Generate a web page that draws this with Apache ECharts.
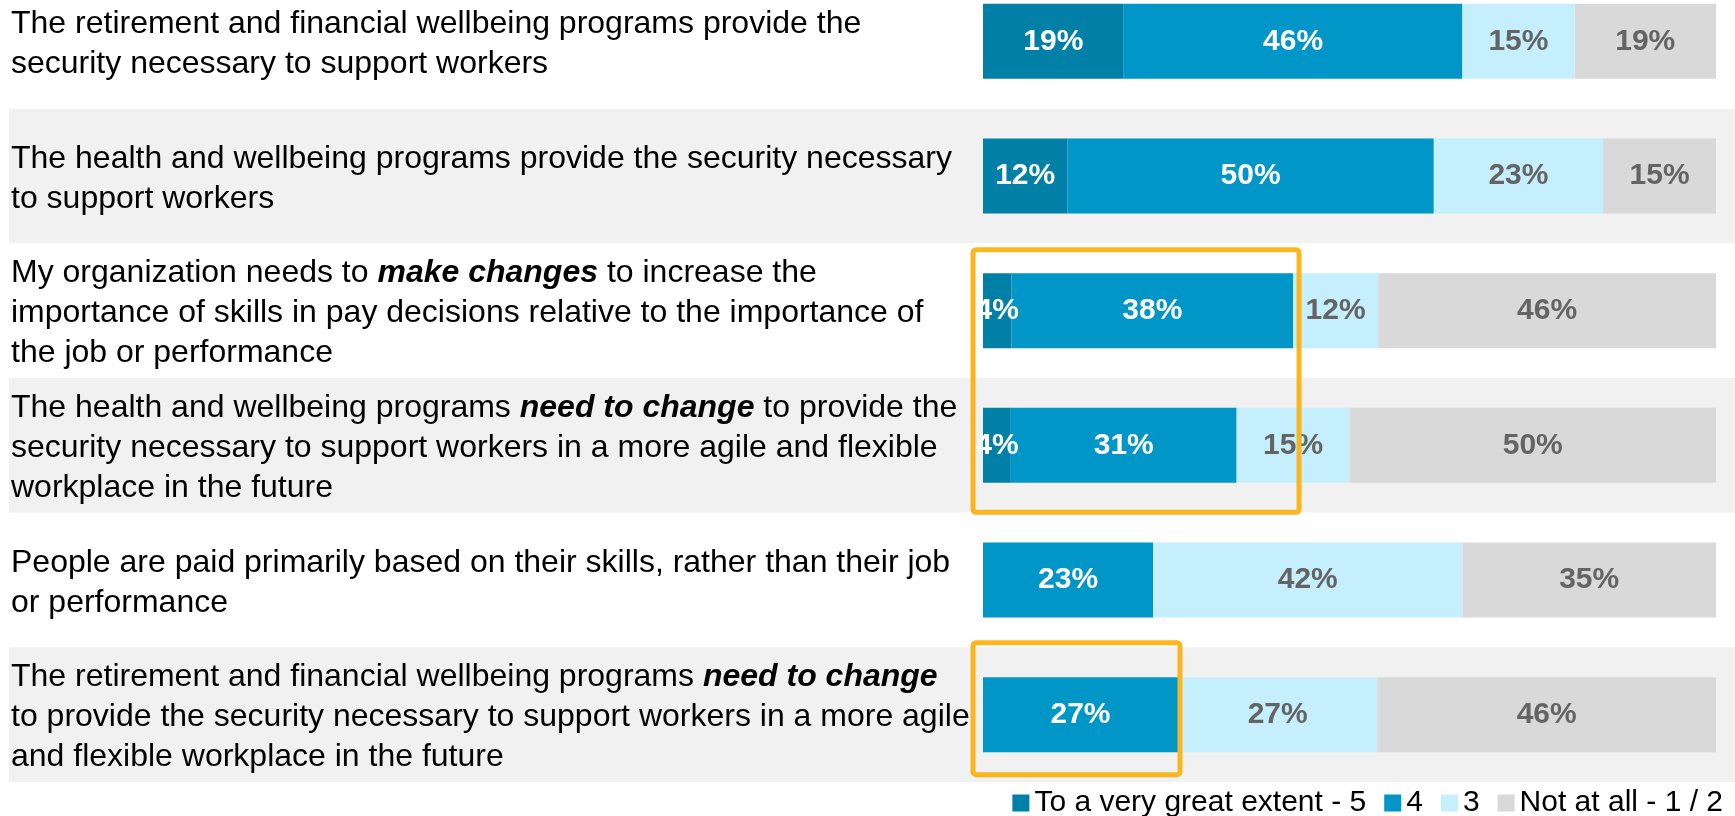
<!DOCTYPE html>
<html>
<head>
    <meta charset="utf-8">
    <title>Pay and wellbeing programs</title>
    <script src="https://cdn.jsdelivr.net/npm/echarts@6/dist/echarts.min.js"></script>
    <style>
        html, body { margin: 0; padding: 0; background: #fff; }
        #main { width: 1735px; height: 816px; }
    </style>
</head>
<body>
    <div id="main"></div>
    <script type="text/javascript">
        // statements, top to bottom ({bi|...} = bold italic words)
        var categories = [
            'The retirement and financial wellbeing programs provide the\nsecurity necessary to support workers',
            'The health and wellbeing programs provide the security necessary\nto support workers',
            'My organization needs to {bi|make changes} to increase the\nimportance of skills in pay decisions relative to the importance of\nthe job or performance',
            'The health and wellbeing programs {bi|need to change} to provide the\nsecurity necessary to support workers in a more agile and flexible\nworkplace in the future',
            'People are paid primarily based on their skills, rather than their job\nor performance',
            'The retirement and financial wellbeing programs {bi|need to change}\nto provide the security necessary to support workers in a more agile\nand flexible workplace in the future'
        ];
        var seriesNames = ['To a very great extent - 5', '4', '3', 'Not at all - 1 / 2'];
        // percent of respondents (labels are rounded)
        var veryGreat = [19.2, 11.5, 3.9, 3.8, null, null];
        var four = [46.2, 50.0, 38.4, 30.8, 23.2, 26.6];
        var three = [15.3, 23.1, 11.6, 15.4, 42.2, 27.2];
        var notAtAll = [19.3, 15.4, 46.1, 50.0, 34.6, 46.2];

        var colors = ['#0080A6', '#0096C8', '#C5EFFD', '#D9D9D9'];
        var labelColors = ['#ffffff', '#ffffff', '#646464', '#646464'];
        var font = '"Liberation Sans", Arial, sans-serif';

        var myChart = echarts.init(document.getElementById('main'));

        var gridTop = -26, gridBottom = 34;

        function makeSeries(i, data) {
            return {
                name: seriesNames[i],
                type: 'bar',
                stack: 'total',
                xAxisIndex: 0,
                yAxisIndex: 0,
                barWidth: 75,
                data: data,
                itemStyle: { color: colors[i] },
                label: {
                    show: true,
                    position: 'inside',
                    fontFamily: font,
                    fontSize: 30,
                    fontWeight: 'bold',
                    color: labelColors[i],
                    formatter: function (p) { return Math.round(p.value) + '%'; }
                },
                emphasis: { disabled: true }
            };
        }

        myChart.setOption({
            animation: false,
            textStyle: { fontFamily: font },
            grid: [
                // bars
                { left: 983, right: 19, top: gridTop, bottom: gridBottom, outerBoundsMode: 'none', containLabel: false },
                // full-width row bands
                { left: 9, right: 0, top: gridTop, bottom: gridBottom, outerBoundsMode: 'none', containLabel: false, z: 0 }
            ],
            legend: {
                data: seriesNames,
                right: 12,
                top: 788,
                padding: 0,
                icon: 'rect',
                itemWidth: 17,
                itemHeight: 17,
                itemGap: 18,
                textStyle: { fontFamily: font, fontSize: 30, color: '#000' }
            },
            xAxis: [
                { type: 'value', gridIndex: 0, min: 0, max: 100, show: false },
                { type: 'value', gridIndex: 1, min: 0, max: 1, show: false }
            ],
            yAxis: [
                {
                    type: 'category',
                    gridIndex: 0,
                    inverse: true,
                    data: categories,
                    axisLine: { show: false },
                    axisTick: { show: false },
                    splitLine: { show: false },
                    axisLabel: {
                        align: 'left',
                        margin: 972,
                        padding: [6, 0, 0, 0],
                        fontFamily: font,
                        fontSize: 32,
                        lineHeight: 40,
                        color: '#000',
                        rich: {
                            bi: { fontFamily: font, fontSize: 32, lineHeight: 40, fontWeight: 'bold', fontStyle: 'italic', color: '#000' }
                        }
                    },
                    z: 3
                },
                {
                    type: 'category',
                    gridIndex: 1,
                    inverse: true,
                    data: categories,
                    axisLine: { show: false },
                    axisTick: { show: false },
                    axisLabel: { show: false },
                    splitLine: { show: false },
                    splitArea: { show: true, areaStyle: { color: ['#ffffff', '#F1F1F1'] } },
                    z: 0
                }
            ],
            series: [
                makeSeries(0, veryGreat),
                makeSeries(1, four),
                makeSeries(2, three),
                makeSeries(3, notAtAll)
            ]
        });

        // orange highlight boxes, placed from the chart's own scale
        function px(v, row) {
            return myChart.convertToPixel({ gridIndex: 0 }, [v, row]);
        }
        var a0 = px(0, 2), a1 = px(veryGreat[2] + four[2], 2), a2 = px(0, 3);
        var b0 = px(0, 5), b1 = px(four[5], 5);
        var boxStyle = { fill: null, stroke: '#FBB51F', lineWidth: 5 };
        myChart.setOption({
            graphic: [
                {
                    type: 'rect', z: 100,
                    shape: { x: a0[0] - 10, y: a0[1] - 61, width: a1[0] - a0[0] + 16, height: (a2[1] + 67) - (a0[1] - 61), r: 3 },
                    style: boxStyle
                },
                {
                    type: 'rect', z: 100,
                    shape: { x: b0[0] - 10, y: b0[1] - 72, width: b1[0] - b0[0] + 12, height: 132, r: 3 },
                    style: boxStyle
                }
            ]
        });
    </script>
</body>
</html>
